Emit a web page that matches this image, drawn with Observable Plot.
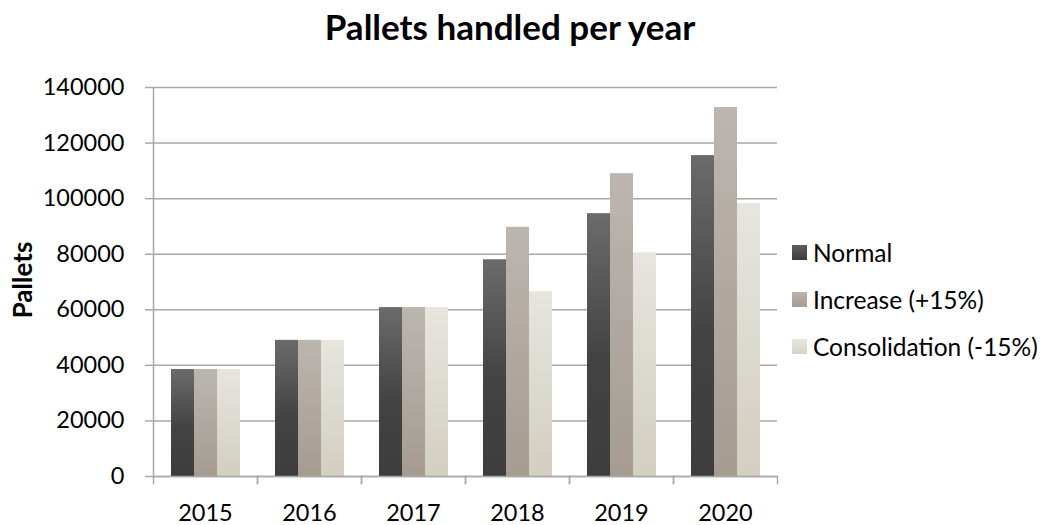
<!DOCTYPE html>
<html>
<head>
<meta charset="utf-8">
<script src="https://cdn.jsdelivr.net/npm/d3@7"></script>
<script src="https://cdn.jsdelivr.net/npm/@observablehq/plot@0.6"></script>
<style>
  html, body { margin: 0; padding: 0; background: #fff; }
  #wrap { position: relative; width: 1041px; height: 525px; font-family: Lato, "Open Sans", sans-serif; color: #000; }
  #chart { position: absolute; left: 0; top: 0; }
  #title { position: absolute; left: 510px; top: 5px; transform: translateX(-50%); white-space: nowrap; font-size: 35px; line-height: 42px; font-weight: bold; }
  #ylabel { position: absolute; left: 22px; top: 280px; transform: translate(-50%, -50%) rotate(-90deg); white-space: nowrap; font-size: 26px; font-weight: bold; }
  #legend { position: absolute; left: 792px; top: 229px; font-size: 24.5px; }
  .row { display: flex; align-items: center; height: 47px; margin-top: 0; }
  .sw { width: 15px; height: 15px; margin-right: 6px; }
</style>
</head>
<body>
<div id="wrap">
  <div id="chart"></div>
  <div id="title">Pallets handled per year</div>
  <div id="ylabel">Pallets</div>
  <div id="legend"></div>
</div>
<script>
const years = ["2015", "2016", "2017", "2018", "2019", "2020"];
const seriesNames = ["Normal", "Increase (+15%)", "Consolidation (-15%)"];
const normal = [38500, 49000, 60800, 78000, 94600, 115500];
const increase = [38500, 49000, 60800, 89700, 109000, 132800];
const consolidation = [38500, 49000, 60800, 66500, 80500, 98200];
const yTicks = [0, 20000, 40000, 60000, 80000, 100000, 120000, 140000];

const seriesValues = [normal, increase, consolidation];
const gradIds = ["gNormal", "gIncrease", "gConsol"];
const gradStops = [
  [["0%", "#6b6b6b"], ["55%", "#434343"], ["100%", "#3d3d3d"]],
  [["0%", "#bcb6b0"], ["100%", "#a59b91"]],
  [["0%", "#e7e5df"], ["100%", "#d2cec1"]]
];
const legendCss = [
  "linear-gradient(#5e5e5e, #3c3c3c)",
  "linear-gradient(#bab3ad, #a69d94)",
  "linear-gradient(#e8e6e0, #d6d3c8)"
];

const data = [];
years.forEach((yr, i) => {
  seriesNames.forEach((s, j) => data.push({year: yr, series: s, value: seriesValues[j][i]}));
});

const gridColor = "#a8a8a8";

const chart = Plot.plot({
  width: 1041,
  height: 525,
  marginLeft: 151,
  marginRight: 262,
  marginTop: 87,
  marginBottom: 49,
  style: {fontFamily: "Lato, 'Open Sans', sans-serif", fontSize: "23.5px", color: "#000", background: "#fff"},
  fx: {domain: years, padding: 0, label: null},
  x: {domain: seriesNames, paddingInner: 0, paddingOuter: 0.75, axis: null},
  y: {domain: [0, 140000], label: null},
  color: {domain: seriesNames, range: gradIds.map(id => `url(#${id})`)},
  marks: [
    Plot.gridY(yTicks, {stroke: gridColor, strokeOpacity: 1, strokeWidth: 1.5}),
    Plot.barY(data, {fx: "year", x: "series", y: "value", fill: "series"}),
    Plot.ruleY([0], {stroke: gridColor, strokeWidth: 1.5}),
    Plot.frame({anchor: "left", facetAnchor: "left", stroke: gridColor, strokeWidth: 1.5}),
    Plot.frame({anchor: "left", stroke: gridColor, strokeWidth: 1.5, insetTop: 389, insetBottom: -7}),
    Plot.frame({anchor: "right", stroke: gridColor, strokeWidth: 1.5, insetTop: 389, insetBottom: -7}),
    Plot.axisY(yTicks, {tickSize: 8, tickPadding: 21, stroke: gridColor, strokeWidth: 1.5, fill: "#000", fontSize: 23.5, tickFormat: d => String(d), label: null}),
    Plot.axisFx({anchor: "bottom", tickSize: 0, tickPadding: 28, fill: "#000", fontSize: 23.5, label: null})
  ]
});

const svgNS = "http://www.w3.org/2000/svg";
const defs = document.createElementNS(svgNS, "defs");
gradIds.forEach((id, k) => {
  const g = document.createElementNS(svgNS, "linearGradient");
  g.setAttribute("id", id);
  g.setAttribute("x1", "0"); g.setAttribute("y1", "0");
  g.setAttribute("x2", "0"); g.setAttribute("y2", "1");
  gradStops[k].forEach(([off, col]) => {
    const st = document.createElementNS(svgNS, "stop");
    st.setAttribute("offset", off);
    st.setAttribute("stop-color", col);
    g.appendChild(st);
  });
  defs.appendChild(g);
});
chart.insertBefore(defs, chart.firstChild);
document.getElementById("chart").appendChild(chart);

const legend = document.getElementById("legend");
seriesNames.forEach((s, k) => {
  const row = document.createElement("div");
  row.className = "row";
  const sw = document.createElement("div");
  sw.className = "sw";
  sw.style.background = legendCss[k];
  const lab = document.createElement("span");
  lab.textContent = s;
  row.appendChild(sw);
  row.appendChild(lab);
  legend.appendChild(row);
});
</script>
</body>
</html>
